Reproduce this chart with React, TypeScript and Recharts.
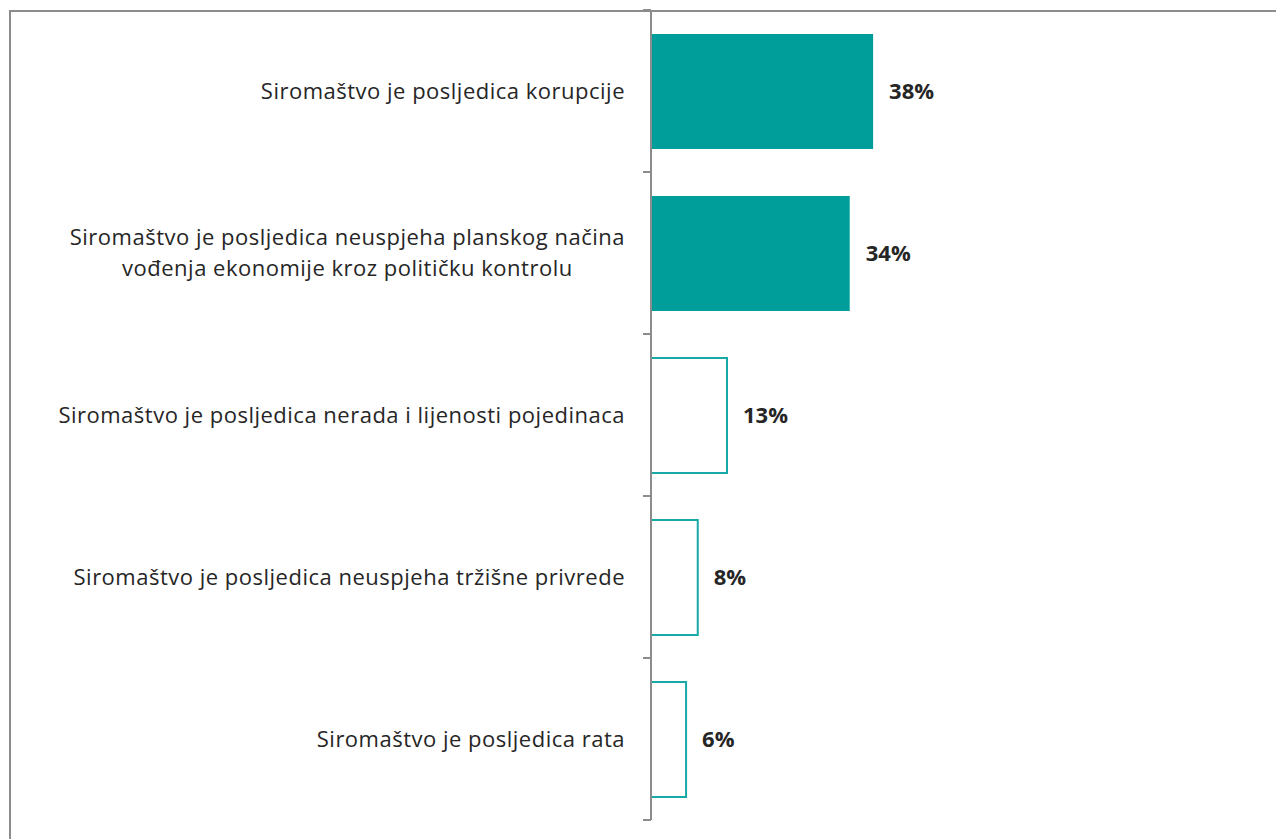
import React from 'react'
import { BarChart, Bar, XAxis, YAxis, Cell, LabelList } from 'recharts'

const categories = [
  'Siromaštvo je posljedica korupcije',
  'Siromaštvo je posljedica neuspjeha planskog načina\nvođenja ekonomije kroz političku kontrolu',
  'Siromaštvo je posljedica nerada i lijenosti pojedinaca',
  'Siromaštvo je posljedica neuspjeha tržišne privrede',
  'Siromaštvo je posljedica rata',
]
const values = [38, 34, 13, 8, 6]
const filled = [true, true, false, false, false]

const data = categories.map((name, i) => ({ name, value: values[i], filled: filled[i] }))

const W = 1276
const H = 831
const AXIS_X = 643
const TOP = 2
const BOTTOM = 19
const HALF_BAND = (H - TOP - BOTTOM) / categories.length / 2
const FONT = '"Open Sans", sans-serif'
const FONT_SIZE = 22
const LS = 0.5

let ctx: CanvasRenderingContext2D | null = null
function measure(t: string) {
  if (!ctx) ctx = document.createElement('canvas').getContext('2d')
  if (!ctx) return t.length * 11
  ctx.font = `${FONT_SIZE}px "Open Sans"`
  return ctx.measureText(t).width + t.length * LS
}

function CategoryTick(props: any) {
  const { y, payload, index } = props
  const lines: string[] = String(payload.value).split('\n')
  const right = AXIS_X - 26
  const maxW = Math.max(...lines.map(measure))
  const cx = right - maxW / 2
  const lh = 31
  const y0 = y - ((lines.length - 1) * lh) / 2
  return (
    <g>
      <text
        x={cx}
        y={y0}
        textAnchor="middle"
        fontFamily={FONT}
        fontSize={FONT_SIZE}
        letterSpacing={LS}
        fill="#262626"
      >
        {lines.map((l, i) => (
          <tspan key={i} x={cx} y={y0 + i * lh} dy="0.35em">
            {l}
          </tspan>
        ))}
      </text>
      {index === 0 && (
        <line x1={AXIS_X - 8} x2={AXIS_X} y1={y - HALF_BAND} y2={y - HALF_BAND} stroke="#8c8c8c" strokeWidth={2} />
      )}
      <line x1={AXIS_X - 8} x2={AXIS_X} y1={y + HALF_BAND} y2={y + HALF_BAND} stroke="#8c8c8c" strokeWidth={2} />
    </g>
  )
}

export default function App() {
  return (
    <div style={{ position: 'relative', width: W, height: H }}>
      <div
        style={{
          position: 'absolute',
          left: 1,
          top: 2,
          width: W + 20,
          height: H + 20,
          borderTop: '2px solid #8c8c8c',
          borderLeft: '2px solid #8c8c8c',
          boxSizing: 'border-box',
        }}
      />
      <div style={{ position: 'absolute', left: 0, top: 0 }}>
        <BarChart
          width={W}
          height={H}
          data={data}
          layout="vertical"
          margin={{ top: TOP, right: W - AXIS_X - 584.5, bottom: BOTTOM, left: 0 }}
        >
          <XAxis type="number" domain={[0, 100]} hide />
          <YAxis
            type="category"
            dataKey="name"
            width={AXIS_X}
            axisLine={{ stroke: '#8c8c8c', strokeWidth: 2 }}
            tickLine={false}
            tick={<CategoryTick />}
            interval={0}
          />
          <Bar dataKey="value" barSize={115} isAnimationActive={false}>
            {data.map((d, i) => (
              <Cell
                key={i}
                fill={d.filled ? '#009E9A' : '#ffffff'}
                stroke={d.filled ? 'none' : '#17A9A6'}
                strokeWidth={d.filled ? 0 : 2}
              />
            ))}
            <LabelList
              dataKey="value"
              position="right"
              offset={16}
              formatter={(v: any) => `${v}%`}
              style={{ fontFamily: FONT, fontSize: 22, fontWeight: 700, fill: '#262626' }}
            />
          </Bar>
        </BarChart>
      </div>
    </div>
  )
}
